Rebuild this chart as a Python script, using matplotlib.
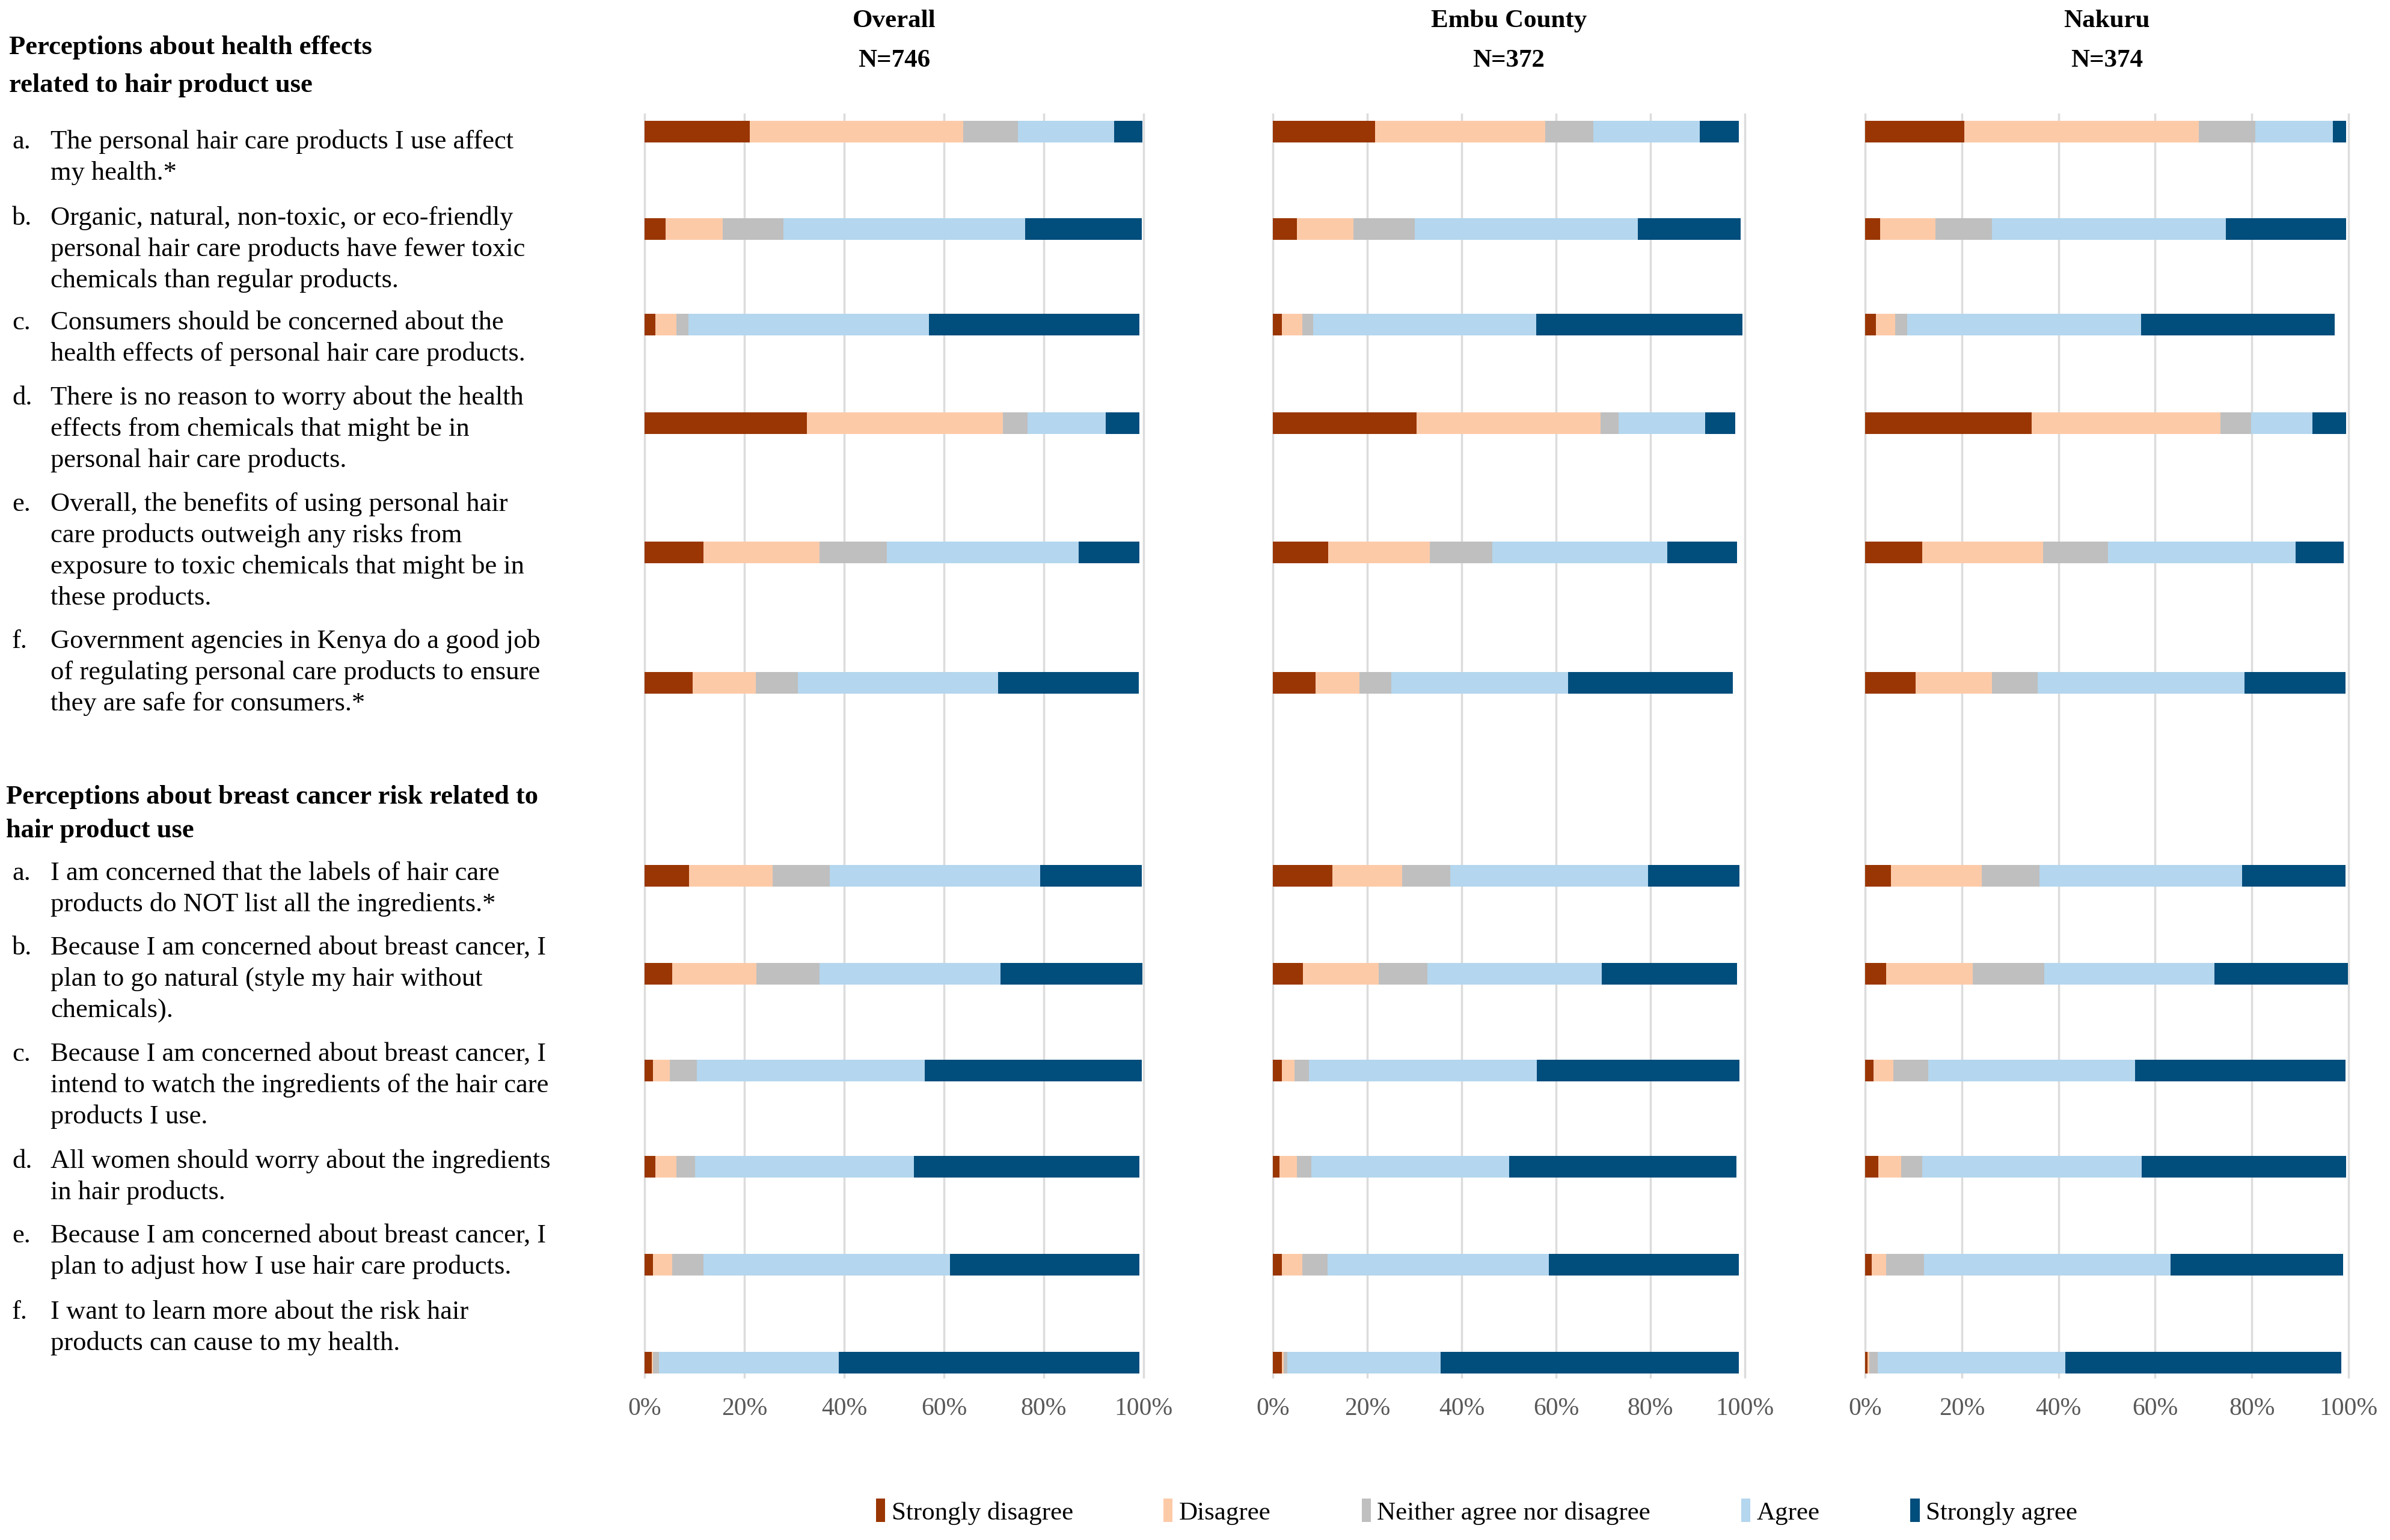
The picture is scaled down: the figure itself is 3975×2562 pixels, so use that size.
import numpy as np
import matplotlib.pyplot as plt
from matplotlib.patches import Patch

plt.rcParams['font.family'] = 'serif'
plt.rcParams['font.serif'] = ['Liberation Serif', 'DejaVu Serif']

W, H = 3975, 2562

regions = ["Overall", "Embu County", "Nakuru"]
sample_sizes = ["N=746", "N=372", "N=374"]
responses = ["Strongly disagree", "Disagree", "Neither agree nor disagree", "Agree", "Strongly agree"]
colors = ["#9a3604", "#fdcaa8", "#bfbfbf", "#b4d6ee", "#014d7c"]

# 12 statements: health effects a-f, then breast cancer a-f (percent)
overall_sd = [21.1, 4.2, 2.2, 32.5, 11.8, 9.6, 8.9, 5.6, 1.7, 2.2, 1.7, 1.4]
overall_d = [42.7, 11.5, 4.2, 39.3, 23.3, 12.7, 16.8, 16.8, 3.4, 4.2, 3.9, 0.3]
overall_n = [11.0, 12.1, 2.4, 5.0, 13.5, 8.4, 11.4, 12.7, 5.4, 3.7, 6.2, 1.2]
overall_a = [19.3, 48.5, 48.2, 15.6, 38.4, 40.1, 42.2, 36.2, 45.6, 43.9, 49.4, 36.0]
overall_sa = [5.6, 23.3, 42.1, 6.7, 12.2, 28.2, 20.3, 28.4, 43.5, 45.1, 37.9, 60.3]

embu_sd = [21.6, 5.1, 1.9, 30.5, 11.7, 9.0, 12.6, 6.4, 1.9, 1.4, 1.9, 1.9]
embu_d = [36.1, 12.0, 4.4, 38.9, 21.5, 9.4, 14.8, 16.0, 2.7, 3.7, 4.4, 0.4]
embu_n = [10.2, 12.9, 2.2, 3.9, 13.3, 6.7, 10.2, 10.3, 3.1, 3.0, 5.3, 0.7]
embu_a = [22.6, 47.3, 47.3, 18.3, 37.1, 37.4, 41.9, 37.0, 48.2, 41.9, 46.9, 32.6]
embu_sa = [8.2, 21.8, 43.7, 6.3, 14.7, 34.9, 19.3, 28.6, 42.9, 48.2, 40.2, 63.1]

nakuru_sd = [20.5, 3.1, 2.2, 34.5, 11.8, 10.5, 5.3, 4.4, 1.8, 2.7, 1.4, 0.5]
nakuru_d = [48.5, 11.5, 4.0, 39.0, 25.0, 15.7, 18.8, 17.9, 4.0, 4.8, 3.0, 0.4]
nakuru_n = [11.7, 11.6, 2.5, 6.3, 13.4, 9.5, 12.0, 14.8, 7.3, 4.3, 7.8, 1.7]
nakuru_a = [16.1, 48.4, 48.4, 12.7, 38.8, 42.8, 41.9, 35.2, 42.7, 45.4, 51.0, 38.8]
nakuru_sa = [2.7, 24.9, 40.1, 7.0, 10.0, 20.9, 21.4, 27.6, 43.6, 42.3, 35.7, 57.1]

region_series = [
    [overall_sd, overall_d, overall_n, overall_a, overall_sa],
    [embu_sd, embu_d, embu_n, embu_a, embu_sa],
    [nakuru_sd, nakuru_d, nakuru_n, nakuru_a, nakuru_sa],
]

letters = ["a.", "b.", "c.", "d.", "e.", "f."]
health_header = ["Perceptions about health effects", "related to hair product use"]
health_items = [
    ["The personal hair care products I use affect", "my health.*"],
    ["Organic, natural, non-toxic, or eco-friendly", "personal hair care products have fewer toxic",
     "chemicals than regular products."],
    ["Consumers should be concerned about the", "health effects of personal hair care products."],
    ["There is no reason to worry about the health", "effects from chemicals that might be in",
     "personal hair care products."],
    ["Overall, the benefits of using personal hair", "care products outweigh any risks from",
     "exposure to toxic chemicals that might be in", "these products."],
    ["Government agencies in Kenya do a good job", "of regulating personal care products to ensure",
     "they are safe for consumers.*"],
]
cancer_header = ["Perceptions about breast cancer risk related to", "hair product use"]
cancer_items = [
    ["I am concerned that the labels of hair care", "products do NOT list all the ingredients.*"],
    ["Because I am concerned about breast cancer, I", "plan to go natural (style my hair without",
     "chemicals)."],
    ["Because I am concerned about breast cancer, I", "intend to watch the ingredients of the hair care",
     "products I use."],
    ["All women should worry about the ingredients", "in hair products."],
    ["Because I am concerned about breast cancer, I", "plan to adjust how I use hair care products."],
    ["I want to learn more about the risk hair", "products can cause to my health."],
]

# layout (pixels)
bar_y = [219, 381, 540, 704, 919, 1136, 1457, 1620, 1781, 1941, 2104, 2267]
panel_x = [(1072, 1902), (2117, 2902), (3102, 3906)]
ax_top, ax_bot = 190, 2291

fig = plt.figure(figsize=(W / 100, H / 100), dpi=100)

for (x0, x1), name, n, series in zip(panel_x, regions, sample_sizes, region_series):
    ax = fig.add_axes([x0 / W, 1 - ax_bot / H, (x1 - x0) / W, (ax_bot - ax_top) / H])
    left = np.zeros(len(bar_y))
    for vals, col, lab in zip(series, colors, responses):
        ax.barh(bar_y, vals, left=left, height=36, color=col, label=lab, zorder=3)
        left += np.array(vals)
    ax.set_xlim(0, 100)
    ax.set_ylim(ax_bot, ax_top)
    ax.set_xticks(range(0, 101, 20))
    ax.set_xticklabels([f"{t}%" for t in range(0, 101, 20)])
    ax.tick_params(axis='x', length=0, pad=24, labelsize=30, labelcolor='#595959')
    ax.set_yticks([])
    for s in ax.spines.values():
        s.set_visible(False)
    ax.grid(axis='x', color='#dcdcdc', linewidth=2.5, zorder=0)
    for gl in ax.get_xgridlines():
        gl.set_clip_on(False)
    xc = (x0 + x1) / 2 / W
    fig.text(xc, 1 - 35 / H, name, ha='center', va='center', fontsize=31, fontweight='bold')
    fig.text(xc, 1 - 101 / H, n, ha='center', va='center', fontsize=31, fontweight='bold')

# left-hand statement text
fs = 32
line_step = 52
for i, line in enumerate(health_header):
    fig.text(15 / W, 1 - (79 + 63 * i) / H, line, ha='left', va='center', fontsize=fs, fontweight='bold')
for i, line in enumerate(cancer_header):
    fig.text(10 / W, 1 - (1326 + 56 * i) / H, line, ha='left', va='center', fontsize=fs, fontweight='bold')

first_line_y = [236, 363, 537, 662, 839, 1067, 1453, 1577, 1754, 1932, 2056, 2183]
for k, lines in enumerate(health_items + cancer_items):
    y0 = first_line_y[k]
    fig.text(20 / W, 1 - y0 / H, letters[k % 6], ha='left', va='center', fontsize=fs)
    for j, line in enumerate(lines):
        fig.text(84 / W, 1 - (y0 + line_step * j) / H, line, ha='left', va='center', fontsize=fs)

handles = [Patch(facecolor=c) for c in colors]
fig.legend(handles, responses, loc='center', bbox_to_anchor=(2456 / W, 1 - 2515 / H), ncol=5,
           frameon=False, fontsize=31, handlelength=0.35, handleheight=1.0, handletextpad=0.25,
           columnspacing=3.5)

fig.savefig("out.png", dpi=100)
